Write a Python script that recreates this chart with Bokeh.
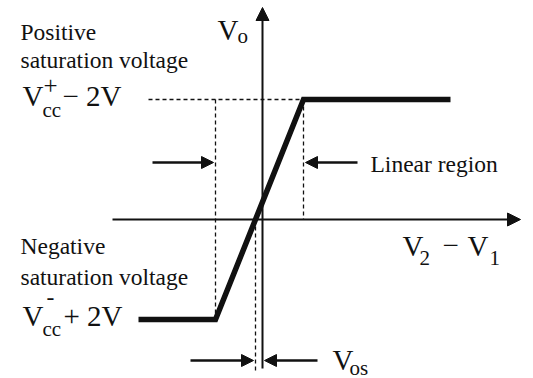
from bokeh.plotting import figure
from bokeh.models import Range1d, Arrow, NormalHead, Label
from bokeh.embed import file_html
from bokeh.resources import INLINE

# Op-amp transfer characteristic (schematic units, origin at V2 - V1 = 0, Vo = 0)
v_sat_pos = 1.2        # Vcc+ - 2V
v_sat_neg = -1.0       # Vcc- + 2V
lin_lo = -0.47         # lower edge of the linear region
lin_hi = 0.41          # upper edge of the linear region
v_os = -0.07           # input offset voltage
x_left = -1.24         # start of the drawn characteristic
x_right = 1.88         # end of the drawn characteristic

curve_x = [x_left, lin_lo, lin_hi, x_right]
curve_y = [v_sat_neg, v_sat_neg, v_sat_pos, v_sat_pos]

W, H = 533, 378
p = figure(width=W, height=H, output_backend="svg", toolbar_location=None,
           x_range=Range1d(-2.62, 2.71), y_range=Range1d(-1.59, 2.19),
           min_border=0, background_fill_color="white", border_fill_color="white")
p.axis.visible = False
p.grid.visible = False
p.outline_line_color = None

INK = "#111111"
FONT = "Liberation Serif"

def head(size=12):
    return NormalHead(size=size, fill_color=INK, line_color=INK, line_width=1)

# coordinate axes
p.add_layout(Arrow(end=head(13), x_start=0, y_start=-1.49, x_end=0, y_end=2.12,
                   line_color=INK, line_width=2))
p.add_layout(Arrow(end=head(13), x_start=-1.50, y_start=0, x_end=2.58, y_end=0,
                   line_color=INK, line_width=2))

# dashed guides
dash = dict(line_color=INK, line_width=1.3, line_dash="4 3")
p.line([-1.14, lin_hi], [v_sat_pos, v_sat_pos], **dash)
p.line([lin_lo, lin_lo], [v_sat_pos, v_sat_neg], **dash)
p.line([lin_hi, lin_hi], [v_sat_pos, 0], **dash)
p.line([v_os, v_os], [0, -1.53], **dash)

# transfer curve
p.line(curve_x, curve_y, line_color=INK, line_width=5.5, line_join="miter")

# linear-region markers
p.add_layout(Arrow(end=head(), x_start=-1.10, y_start=0.57, x_end=lin_lo - 0.02, y_end=0.57,
                   line_color=INK, line_width=2.5))
p.add_layout(Arrow(end=head(), x_start=0.95, y_start=0.57, x_end=lin_hi + 0.02, y_end=0.57,
                   line_color=INK, line_width=2.5))
# offset markers
p.add_layout(Arrow(end=head(), x_start=-0.72, y_start=-1.41, x_end=v_os - 0.02, y_end=-1.41,
                   line_color=INK, line_width=2.5))
p.add_layout(Arrow(end=head(), x_start=0.55, y_start=-1.41, x_end=0.02, y_end=-1.41,
                   line_color=INK, line_width=2.5))


def txt(x, y, s, size):
    p.add_layout(Label(x=x, y=y, text=s, text_font=FONT, text_font_size=f"{size}px",
                       text_color=INK, text_baseline="alphabetic", text_align="left"))

BIG, SUB, MID = 29, 21, 23.5

# output axis label
txt(-0.45, 1.90, "V", BIG)
txt(-0.25, 1.84, "o", SUB)

# positive saturation
txt(-2.42, 1.88, "Positive", MID)
txt(-2.42, 1.60, "saturation voltage", MID)
txt(-2.40, 1.24, "V", BIG)
txt(-2.20, 1.10, "cc", SUB)
txt(-2.19, 1.34, "+", 25)
txt(-2.00, 1.24, "\u2212 2V", BIG)

# negative saturation
txt(-2.42, -0.26, "Negative", MID)
txt(-2.42, -0.57, "saturation voltage", MID)
txt(-2.40, -0.96, "V", BIG)
txt(-2.20, -1.09, "cc", SUB)
txt(-2.16, -0.78, "-", MID)
txt(-1.99, -0.96, "+ 2V", BIG)

# input axis label
txt(1.40, -0.26, "V", BIG)
txt(1.57, -0.38, "2", SUB)
txt(1.80, -0.26, "\u2212", BIG)
txt(2.05, -0.26, "V", BIG)
txt(2.27, -0.38, "1", SUB)

txt(1.08, 0.56, "Linear region", MID)

txt(0.70, -1.40, "V", BIG)
txt(0.87, -1.48, "os", SUB)

open("out.html", "w").write(file_html(p, INLINE))
